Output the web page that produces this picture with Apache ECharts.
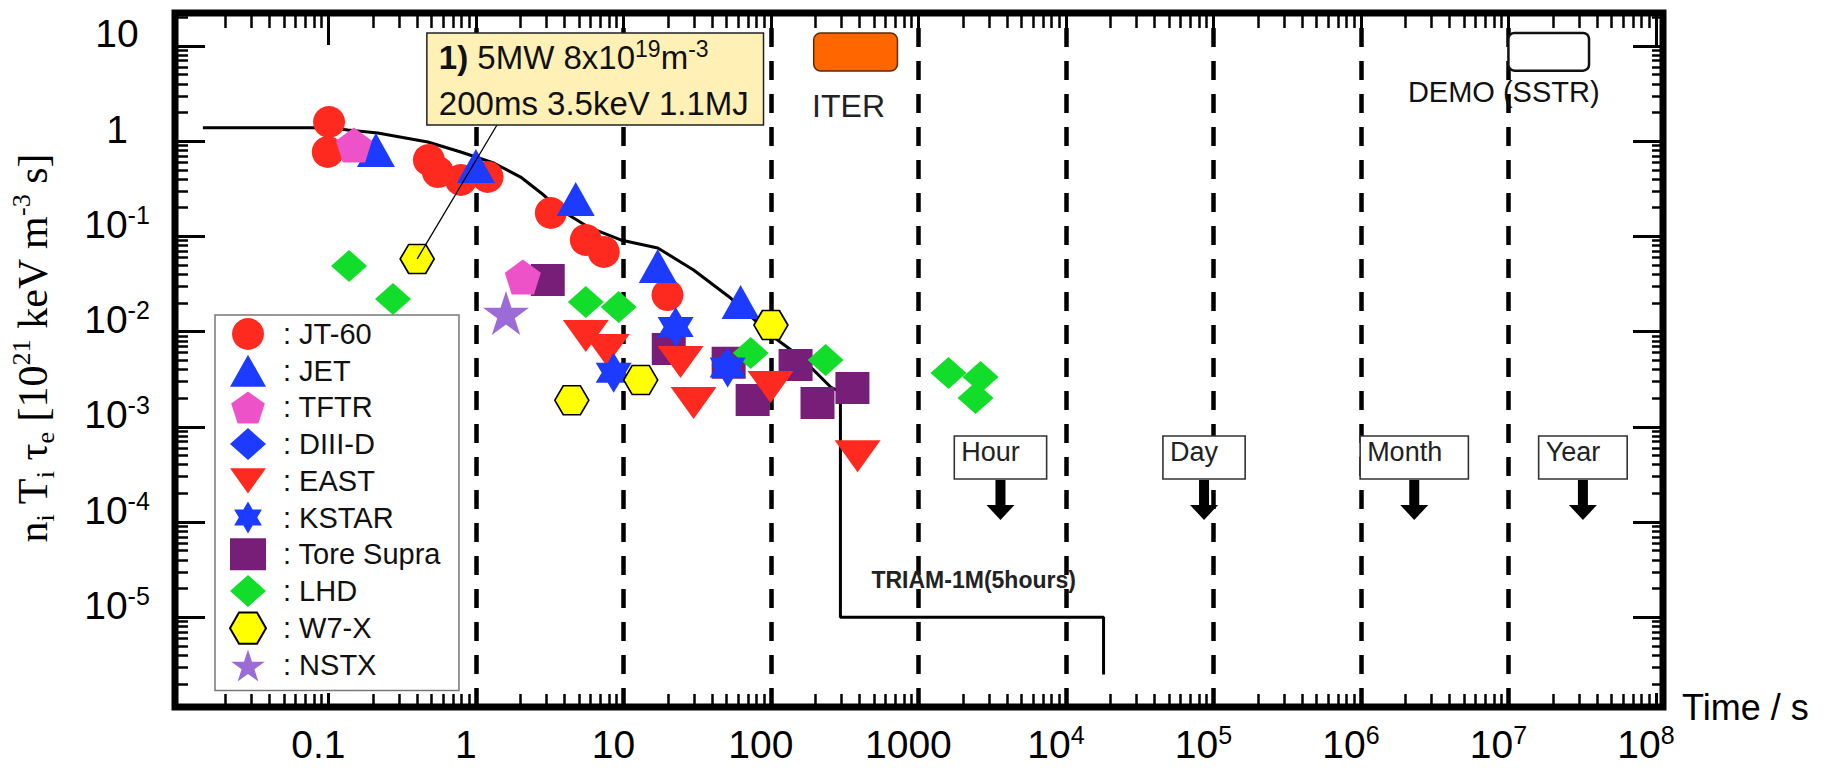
<!DOCTYPE html>
<html><head><meta charset="utf-8">
<script src="https://cdn.jsdelivr.net/npm/echarts@6/dist/echarts.min.js"></script>
<style>html,body{margin:0;padding:0;background:#fff}#c{width:1825px;height:769px}</style>
</head><body><div id="c"></div>
<script>
// ---------------- data: [time (s), n_i T_i tau_e (10^21 keV m^-3 s)] ----------------
const jt60 = [[0.101,1.59],[0.099,0.77],[0.48,0.635],[0.552,0.474],[0.79,0.391],[1.2,0.421],[3.22,0.176],[5.56,0.0917],[7.36,0.0686],[19.9,0.0242]];
const jet = [[0.21,0.81],[1.0,0.548],[4.75,0.247],[17.1,0.0489],[62.3,0.0205]];
const tftr = [[0.149,0.912],[2.08,0.0375]];
const diiid = [[50.1,0.0044]];
const east = [[5.56,0.009],[7.71,0.0064],[24.4,0.0048],[29.9,0.00178],[99.5,0.00262],[387,0.00049]];
const kstar = [[8.59,0.0037],[22.6,0.0112],[50.9,0.0042]];
const toreSupra = [[3.07,0.0348],[20.3,0.00656],[51.7,0.0047],[75.2,0.00191],[147,0.00446],[207,0.00178],[357,0.00256]];
const lhd = [[0.138,0.0489],[0.274,0.022],[5.56,0.0205],[9.29,0.0181],[72.9,0.00596],[235,0.00503],[1600,0.00367],[2640,0.00333],[2440,0.00201]];
const w7x = [[0.4,0.058],[4.47,0.0019],[13.1,0.0031],[100,0.0117]];
const nstx = [[1.6,0.0157]];
const envelope = [[0.0141,1.38],[0.104,1.38],[0.1355,1.31],[0.216,1.22],[0.472,0.98],[0.79,0.77],[1.32,0.59],[2.01,0.42],[2.88,0.272],[3.76,0.189],[5.73,0.126],[9.59,0.0917],[17.1,0.0755],[29.9,0.0444],[53.3,0.0225],[104,0.00877],[159,0.0054],[254,0.00262],[296,0.00232],[296,1e-5],[18000,1e-5],[18000,2.5e-6]];

const machineNames = ['JT-60','JET','TFTR','DIII-D','EAST','KSTAR','Tore Supra','LHD','W7-X','NSTX'];

const xTickValues = [0.1,1,10,100,1000,1e4,1e5,1e6,1e7,1e8];
const xTickLabels = ['0.1','1','10','100','1000','10^4','10^5','10^6','10^7','10^8'];
const yTickValues = [10,1,0.1,0.01,0.001,1e-4,1e-5];
const yTickLabels = ['10','1','10^-1','10^-2','10^-3','10^-4','10^-5'];
const decadeLines = [1,10,100,1000,1e4,1e5,1e6,1e7];

const timeMarkerLabels = ['Hour','Day','Month','Year'];
const timeMarkerSeconds = [3600, 86400, 2.3e6, 3.2e7];
const timeMarkerBoxTop = 8e-4;
const timeMarkerArrowTip = 1.05e-4;

const iterBox = [195, 721, 13.7, 5.46];
const iterLabel = ['ITER', 336, 2.34];
const demoBox = [1e7, 3.52e7, 13.7, 5.5];
const demoLabel = ['DEMO (SSTR)', 9.3e6, 3.29];
const calloutBox = [0.465, 89.1, 13.7, 1.48];
const calloutLeader = [1.39, 1.48];
const calloutText = ['{b|1)}{n| 5MW 8x10}{s|19}{n|m}{s|-3}', '{n|200ms 3.5keV 1.1MJ}'];
const triamLabel = ['TRIAM-1M(5hours)', 2370, 2.46e-5];

const xMin = 0.00912, xMax = 1.117e8;
const yMin = 1.14e-6, yMax = 22.2;

// ---------------- styles ----------------
const FONT = '"Liberation Sans", Arial, Helvetica, sans-serif';
const SERIF = '"Liberation Serif", "Times New Roman", serif';
const SYM = {
  pentagon: 'path://M0,-100L95.1,-30.9L58.8,80.9L-58.8,80.9L-95.1,-30.9Z',
  hexagon: 'path://M-100,0L-50,-86.6L50,-86.6L100,0L50,86.6L-50,86.6Z',
  star6: 'path://M0,-100L28.9,-50L86.6,-50L57.7,0L86.6,50L28.9,50L0,100L-28.9,50L-86.6,50L-57.7,0L-86.6,-50L-28.9,-50Z',
  star5: 'path://M0,-100L22.5,-30.9L95.1,-30.9L36.3,11.8L58.8,80.9L0,38.2L-58.8,80.9L-36.3,11.8L-95.1,-30.9L-22.5,-30.9Z',
  down: 'path://M0,0L100,0L50,70Z'
};
const styles = {
  'JT-60': {symbol:'circle', size:32, color:'#FF2A1F'},
  'JET': {symbol:'triangle', size:[38,34], color:'#1C3BFF'},
  'TFTR': {symbol:SYM.pentagon, size:[36,35], color:'#EE52C9'},
  'DIII-D': {symbol:'diamond', size:[30,32], color:'#1C3BFF'},
  'EAST': {symbol:SYM.down, size:[46,32], color:'#FF2A1F'},
  'KSTAR': {symbol:SYM.star6, size:[36,40], color:'#1C3BFF'},
  'Tore Supra': {symbol:'rect', size:[34,32], color:'#771E78'},
  'LHD': {symbol:'diamond', size:[36,32], color:'#12DD2A'},
  'W7-X': {symbol:SYM.hexagon, size:[34,29], color:'#FFFF00', border:'#000'},
  'NSTX': {symbol:SYM.star5, size:[46,44], color:'#9B6BD6'}
};
const machineData = {'JT-60':jt60,'JET':jet,'TFTR':tftr,'DIII-D':diiid,'EAST':east,'KSTAR':kstar,'Tore Supra':toreSupra,'LHD':lhd,'W7-X':w7x,'NSTX':nstx};
const drawOrder = ['Tore Supra','LHD','JT-60','JET','TFTR','DIII-D','EAST','KSTAR','NSTX','W7-X'];

// ---------------- helpers ----------------
function minorTicks(lo, hi) {
  const out = [];
  for (let e = Math.floor(Math.log10(lo)); e <= Math.ceil(Math.log10(hi)); e++)
    for (let k = 2; k <= 9; k++) { const v = k * Math.pow(10, e); if (v > lo * 1.5 && v < hi * 0.95) out.push(v); }
  return out;
}
function richLabel(s) {
  const i = s.indexOf('^');
  return i < 0 ? '{b|' + s + '}' : '{b|' + s.slice(0, i) + '}{s|' + s.slice(i + 1) + '}';
}
function makeFormatter(vals, labels) {
  return function (v) {
    for (let i = 0; i < vals.length; i++)
      if (Math.abs(Math.log10(vals[i]) - Math.log10(v)) < 1e-6) return richLabel(labels[i]);
    return '';
  };
}
const xTickRich = {
  b: {fontSize:39, fontFamily:FONT, color:'#000', lineHeight:44},
  s: {fontSize:25, fontFamily:FONT, color:'#000', lineHeight:25, padding:[0,0,19,0]}
};
const yTickRich = {
  b: {fontSize:39, fontFamily:FONT, color:'#000', lineHeight:44, padding:[0,0,24,0]},
  s: {fontSize:25, fontFamily:FONT, color:'#000', lineHeight:25, padding:[0,0,43,0]}
};
const measureCtx = document.createElement('canvas').getContext('2d');
function textWidth(t, font) { measureCtx.font = font; return measureCtx.measureText(t).width; }

function xAx(pos, ticks, len, width, label) {
  return {
    type:'log', logBase:10, min:xMin, max:xMax, position:pos,
    axisLine:{show:false}, splitLine:{show:false},
    axisTick:{show:true, inside:true, length:len, customValues:ticks, lineStyle:{color:'#000', width:width}},
    axisLabel: label || {show:false}
  };
}
function yAx(pos, ticks, len, width, label, extra) {
  return Object.assign({
    type:'log', logBase:10, min:yMin, max:yMax, position:pos,
    axisLine:{show:false}, splitLine:{show:false},
    axisTick:{show:true, inside:true, length:len, customValues:ticks, lineStyle:{color:'#000', width:width}},
    axisLabel: label || {show:false}
  }, extra || {});
}

const xMinor = minorTicks(xMin, xMax);
const yMinor = minorTicks(yMin, yMax);

const scatterSeries = drawOrder.map(name => {
  const st = styles[name];
  return {
    type:'scatter', name:name, data:machineData[name], z:3, silent:true,
    symbol:st.symbol, symbolSize:st.size, symbolKeepAspect:false,
    itemStyle:{color:st.color, opacity:1, borderColor:st.border || st.color, borderWidth:st.border ? 1.6 : 0}
  };
});

const option = {
  animation:false,
  backgroundColor:'#fff',
  textStyle:{fontFamily:FONT},
  grid:{left:174, top:13, right:162, bottom:62, show:true, borderColor:'#000', borderWidth:7, backgroundColor:'transparent'},
  legend:{
    data:machineNames, orient:'vertical', left:215, top:315,
    itemWidth:36, itemHeight:32, itemGap:4.7, padding:[3,18,9,14],
    borderColor:'#777', borderWidth:1.5, backgroundColor:'#fff',
    selectedMode:false, formatter:': {name}',
    textStyle:{fontSize:29, lineHeight:32, color:'#111', fontFamily:FONT, padding:[0,0,0,12]}
  },
  xAxis:[
    xAx('bottom', xTickValues, 14, 3, {
      show:true, customValues:xTickValues, formatter:makeFormatter(xTickValues, xTickLabels),
      margin:15, padding:[0,20,0,0], rich:xTickRich, color:'#000'
    }),
    xAx('bottom', xMinor, 13, 2.5),
    xAx('top', xTickValues, 32, 3),
    xAx('top', xMinor, 15, 2.5)
  ],
  yAxis:[
    yAx('left', yTickValues, 30, 3, {
      show:true, customValues:yTickValues, formatter:makeFormatter(yTickValues, yTickLabels),
      margin:58, align:'center', rich:yTickRich, color:'#000'
    }, {
      name:'{t|n}{sub|i}{t| T}{sub|i}{t| τ}{sub|e}{t| [10}{sup|21}{t| keV m}{sup|-3}{t| s]}',
      nameLocation:'middle', nameRotate:90, nameGap:117,
      nameTextStyle:{padding:[0,0,0,24], rich:{
        t:{fontSize:42, fontFamily:SERIF, color:'#000', lineHeight:50},
        sub:{fontSize:26, fontFamily:SERIF, color:'#000', lineHeight:26, verticalAlign:'bottom'},
        sup:{fontSize:26, fontFamily:SERIF, color:'#000', lineHeight:26, verticalAlign:'top'}
      }}
    }),
    yAx('left', yMinor, 13, 2.5),
    yAx('right', yTickValues, 30, 3),
    yAx('right', yMinor, 11, 2.5)
  ],
  series:[
    {
      type:'line', name:'envelope', data:envelope, showSymbol:false, symbol:'none', silent:true, z:2,
      lineStyle:{color:'#000', width:3},
      markLine:{silent:true, z:1, symbol:['none','none'], label:{show:false},
        lineStyle:{type:[19,14], width:4.5, color:'#000'},
        data:decadeLines.map(v => ({xAxis:v}))}
    }
  ].concat(scatterSeries).concat([
    { // time scale markers (Hour / Day / Month / Year)
      type:'custom', name:'timeMarkers', silent:true, z:4, clip:false,
      data:timeMarkerSeconds.map(s => [s, timeMarkerBoxTop, timeMarkerArrowTip]),
      encode:{x:0, y:[1,2]},
      renderItem:function (params, api) {
        const i = params.dataIndex;
        const top = api.coord([api.value(0), api.value(1)]);
        const tip = api.coord([api.value(0), api.value(2)]);
        const label = timeMarkerLabels[i];
        const w = Math.max(80, textWidth(label, '26px ' + FONT) + 36), h = 43;
        const cx = top[0], x0 = cx - w / 2, y0 = top[1], yb = y0 + h, ty = tip[1];
        return {type:'group', children:[
          {type:'rect', shape:{x:x0, y:y0, width:w, height:h}, style:{fill:'#fff', stroke:'#333', lineWidth:1.6}},
          {type:'text', style:{x:x0 + 7, y:y0 + 16, text:label, fontSize:27, fontFamily:FONT, fill:'#222', align:'left', verticalAlign:'middle'}},
          {type:'polygon', shape:{points:[[cx-5,yb+1],[cx+5,yb+1],[cx+5,ty-15],[cx+14,ty-15],[cx,ty],[cx-14,ty-15],[cx-5,ty-15]]}, style:{fill:'#000'}}
        ]};
      }
    },
    { // ITER and DEMO boxes
      type:'custom', name:'machinesFuture', silent:true, z:4, clip:false,
      data:[[iterBox[0], iterBox[2]]],
      renderItem:function (params, api) {
        const a0 = api.coord([iterBox[0], iterBox[2]]), a1 = api.coord([iterBox[1], iterBox[3]]);
        const d0 = api.coord([demoBox[0], demoBox[2]]), d1 = api.coord([demoBox[1], demoBox[3]]);
        const il = api.coord([iterLabel[1], iterLabel[2]]), dl = api.coord([demoLabel[1], demoLabel[2]]);
        return {type:'group', children:[
          {type:'rect', shape:{x:a0[0], y:a0[1], width:a1[0]-a0[0], height:a1[1]-a0[1], r:7}, style:{fill:'#FF6600', stroke:'#5a2a00', lineWidth:1.5}},
          {type:'rect', shape:{x:d0[0], y:d0[1], width:d1[0]-d0[0], height:d1[1]-d0[1], r:6}, style:{fill:'#fff', stroke:'#111', lineWidth:2.5}},
          {type:'text', style:{x:il[0], y:il[1], text:iterLabel[0], fontSize:32, fontFamily:FONT, fill:'#222', align:'center', verticalAlign:'middle'}},
          {type:'text', style:{x:dl[0], y:dl[1], text:demoLabel[0], fontSize:29, fontFamily:FONT, fill:'#111', align:'center', verticalAlign:'middle'}}
        ]};
      }
    },
    { // TRIAM label
      type:'custom', name:'triam', silent:true, z:4, clip:false,
      data:[[triamLabel[1], triamLabel[2]]],
      renderItem:function (params, api) {
        const p = api.coord([api.value(0), api.value(1)]);
        return {type:'text', style:{x:p[0], y:p[1], text:triamLabel[0], fontSize:23, fontWeight:'bold', fontFamily:FONT, fill:'#222', align:'center', verticalAlign:'middle'}};
      }
    },
    { // W7-X callout
      type:'custom', name:'callout', silent:true, z:5, clip:false,
      data:[[calloutBox[0], calloutBox[2]]],
      renderItem:function (params, api) {
        const p0 = api.coord([calloutBox[0], calloutBox[2]]), p1 = api.coord([calloutBox[1], calloutBox[3]]);
        const a = api.coord(calloutLeader), b = api.coord(w7x[0]);
        const rich = {
          n:{fontSize:33, fontFamily:FONT, fill:'#111', lineHeight:40},
          b:{fontSize:33, fontFamily:FONT, fontWeight:'bold', fill:'#111', lineHeight:40},
          s:{fontSize:23, fontFamily:FONT, fill:'#111', lineHeight:23, padding:[0,0,17,0]}
        };
        return {type:'group', children:[
          {type:'line', shape:{x1:a[0], y1:a[1], x2:b[0], y2:b[1]}, style:{stroke:'#000', lineWidth:1.3}},
          {type:'rect', shape:{x:p0[0], y:p0[1], width:p1[0]-p0[0], height:p1[1]-p0[1]}, style:{fill:'#FFF0B5', stroke:'#222', lineWidth:1.5}},
          {type:'text', style:{x:p0[0] + 12, y:p0[1] + 25, text:calloutText[0], rich:rich, align:'left', verticalAlign:'middle'}},
          {type:'text', style:{x:p0[0] + 12, y:p0[1] + 71, text:calloutText[1], rich:rich, align:'left', verticalAlign:'middle'}}
        ]};
      }
    }
  ])
};
option.xAxis[0].name = 'Time / s';
option.xAxis[0].nameLocation = 'end';
option.xAxis[0].nameGap = 19;
option.xAxis[0].nameTextStyle = {fontSize:36, fontFamily:FONT, color:'#000', align:'left', verticalAlign:'middle', padding:[70,0,0,0]};

const chart = echarts.init(document.getElementById('c'), null, {renderer:'svg', width:1825, height:769});
chart.setOption(option);
</script></body></html>
